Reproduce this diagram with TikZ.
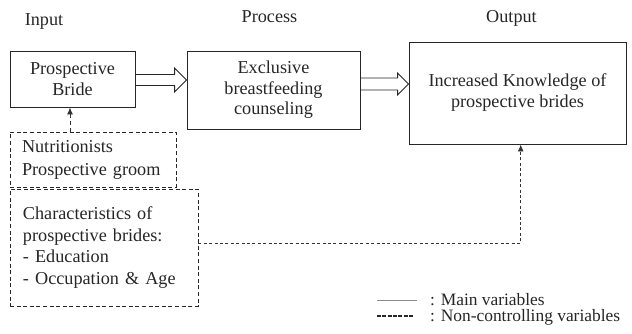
\documentclass[tikz,border=0pt]{standalone}
\usepackage{fontspec}
\setmainfont{Liberation Serif}
\usetikzlibrary{calc,arrows.meta}
\begin{document}
\begin{tikzpicture}[x=1pt,y=-1pt,
  every node/.style={font=\fontsize{18.2}{21.5}\selectfont, text=black!85},
  boxsolid/.style={draw=black!85, line width=0.9pt, rectangle, inner sep=0pt, align=center},
  boxdash/.style={draw=black!85, line width=0.9pt, rectangle, dash pattern=on 4pt off 2.6pt, inner sep=0pt, align=left},
  hollow/.style={draw=black!85, line width=0.9pt, line join=miter},
  dashconn/.style={draw=black!80, line width=0.9pt, dash pattern=on 3pt off 2.4pt, -{Latex[length=7pt,width=6pt]}},
  lbl/.style={inner sep=0pt, anchor=base},
  legtext/.style={inner sep=0pt, anchor=base west, font=\fontsize{17.4}{18}\selectfont}
]
\useasboundingbox (0,0) rectangle (632,333);

% column labels
\node[lbl] (lin) at (44,25) {Input};
\node[lbl] (lpr) at (269.5,22.5) {Process};
\node[lbl] (lout) at (511.5,22.5) {Output};

% main boxes
\node[boxsolid, minimum width=125pt, minimum height=56pt] (bride) at (72.5,79) {Prospective\\Bride};
\node[boxsolid, minimum width=173pt, minimum height=78pt, font=\fontsize{18.2}{20.5}\selectfont] (proc) at (273.5,90) {Exclusive\\breastfeeding\\counseling};
\node[boxsolid, minimum width=217pt, minimum height=102pt, font=\fontsize{18.2}{21}\selectfont] (out) at (517.5,93) {Increased Knowledge of\\prospective brides};

% dashed boxes
\node[boxdash, minimum width=166pt, minimum height=55pt, text width=142pt, inner xsep=12pt, font=\fontsize{18.2}{23}\selectfont] (nutri) at (93,159.5) {Nutritionists\\Prospective groom};
\node[boxdash, minimum width=188pt, minimum height=117pt, text width=162pt, inner xsep=13pt, font=\fontsize{18.2}{21.7}\selectfont] (char) at (104,247.5) {Characteristics of\\prospective brides:\\- Education\\- Occupation \& Age};

% hollow arrows
\coordinate (ya) at (0,80);
\coordinate (yb) at (0,84);
\draw[hollow] let \p1=(bride.east |- ya), \p2=(proc.west |- ya) in
  (\x1,\y1+5.5pt) -- (\x2-12pt,\y1+5.5pt) -- (\x2-12pt,\y1+12pt) -- (\x2,\y1)
  -- (\x2-12pt,\y1-12pt) -- (\x2-12pt,\y1-5.5pt) -- (\x1,\y1-5.5pt);
\draw[hollow] let \p1=(proc.east |- yb), \p2=(out.west |- yb) in
  (\x1,\y1+6pt) -- (\x2-11pt,\y1+6pt) -- (\x2-11pt,\y1+11pt) -- (\x2,\y1)
  -- (\x2-11pt,\y1-11pt) -- (\x2-11pt,\y1-6pt) -- (\x1,\y1-6pt);

% dashed connectors
\coordinate (nx) at (70,0);
\draw[dashconn, dash pattern=on 4pt off 3pt] (nutri.north -| nx) -- (bride.south -| nx);
\coordinate (corner) at (520.7,243);
\draw[dashconn] (char.east |- corner) -- (corner) -- (corner |- out.south);

% legend
\coordinate (l1a) at (377,300);
\coordinate (l1b) at (417,300);
\coordinate (l2a) at (377,316);
\coordinate (l2b) at (414,316);
\draw[black!45, line width=1pt] (l1a) -- (l1b);
\draw[black!85, line width=1.3pt, dash pattern=on 4pt off 1.3pt] (l2a) -- (l2b);
\node[legtext] (leg1) at (430,305) {: Main variables};
\node[legtext] (leg2) at (430,321.5) {: Non-controlling variables};
\end{tikzpicture}
\end{document}
